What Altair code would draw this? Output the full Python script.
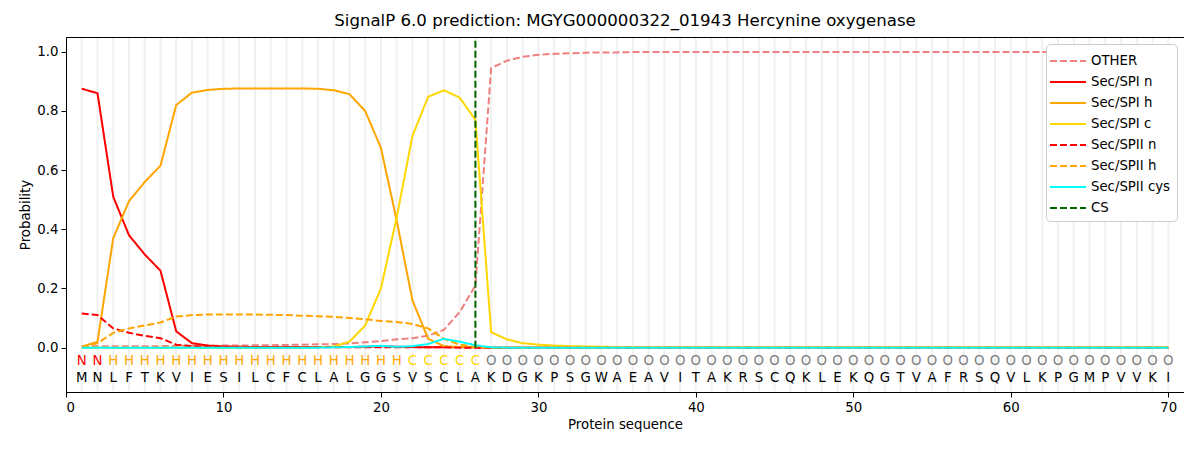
import altair as alt
import pandas as pd

sequence = list("MNLFTKVIESILCFCLALGGSVSCLAKDGKPSGWAEAVITAKRSCQKLEKQGTVAFRSQVLKPGMPVVKI")
labels = list("NN" + "HHHHHHHHHHHHHHHHHHH" + "CCCCC" + "O" * 44)

other = [0.005, 0.005, 0.005, 0.005, 0.005, 0.005, 0.006, 0.006, 0.006, 0.007,
         0.007, 0.008, 0.008, 0.009, 0.010, 0.011, 0.012, 0.014, 0.018, 0.022,
         0.028, 0.032, 0.040, 0.060, 0.120, 0.210, 0.945, 0.970, 0.983, 0.990,
         0.993, 0.995, 0.997, 0.998, 0.998, 0.999, 0.999, 0.999, 0.999, 0.999,
         0.999, 0.999, 0.999, 0.999, 0.999, 0.999, 0.999, 0.999, 0.999, 0.999,
         0.999, 0.999, 0.999, 0.999, 0.999, 0.999, 0.999, 0.999, 0.999, 0.999,
         0.999, 0.999, 0.999, 0.999, 0.999, 0.999, 0.999, 0.999, 0.999, 0.999]
spi_n = [0.875, 0.860, 0.510, 0.380, 0.315, 0.260, 0.055, 0.015, 0.007, 0.004,
         0.003, 0.002, 0.002, 0.002, 0.002, 0.002, 0.002, 0.002, 0.003, 0.005,
         0.003, 0.002, 0.001, 0.001, 0.001, 0.001, 0.0, 0.0, 0.0, 0.0,
         0.0, 0.0, 0.0, 0.0, 0.0, 0.0, 0.0, 0.0, 0.0, 0.0,
         0.0, 0.0, 0.0, 0.0, 0.0, 0.0, 0.0, 0.0, 0.0, 0.0,
         0.0, 0.0, 0.0, 0.0, 0.0, 0.0, 0.0, 0.0, 0.0, 0.0,
         0.0, 0.0, 0.0, 0.0, 0.0, 0.0, 0.0, 0.0, 0.0, 0.0]
spi_h = [0.003, 0.020, 0.370, 0.495, 0.560, 0.615, 0.820, 0.862, 0.871, 0.875,
         0.876, 0.876, 0.876, 0.876, 0.876, 0.875, 0.870, 0.857, 0.800, 0.675,
         0.430, 0.160, 0.030, 0.005, 0.002, 0.001, 0.0, 0.0, 0.0, 0.0,
         0.0, 0.0, 0.0, 0.0, 0.0, 0.0, 0.0, 0.0, 0.0, 0.0,
         0.0, 0.0, 0.0, 0.0, 0.0, 0.0, 0.0, 0.0, 0.0, 0.0,
         0.0, 0.0, 0.0, 0.0, 0.0, 0.0, 0.0, 0.0, 0.0, 0.0,
         0.0, 0.0, 0.0, 0.0, 0.0, 0.0, 0.0, 0.0, 0.0, 0.0]
spi_c = [0.0, 0.0, 0.0, 0.0, 0.0, 0.0, 0.0, 0.0, 0.0, 0.0,
         0.0, 0.0, 0.0, 0.0, 0.0, 0.001, 0.004, 0.020, 0.075, 0.200,
         0.440, 0.715, 0.848, 0.870, 0.845, 0.770, 0.052, 0.028, 0.015, 0.010,
         0.007, 0.005, 0.004, 0.003, 0.002, 0.002, 0.001, 0.001, 0.001, 0.001,
         0.001, 0.001, 0.001, 0.001, 0.001, 0.001, 0.001, 0.001, 0.001, 0.001,
         0.001, 0.001, 0.001, 0.001, 0.001, 0.001, 0.001, 0.001, 0.001, 0.001,
         0.001, 0.001, 0.001, 0.001, 0.001, 0.001, 0.001, 0.001, 0.001, 0.001]
spii_n = [0.115, 0.110, 0.065, 0.050, 0.040, 0.032, 0.010, 0.005, 0.003, 0.002,
          0.001, 0.001, 0.001, 0.001, 0.001, 0.001, 0.001, 0.001, 0.001, 0.001,
          0.001, 0.001, 0.001, 0.001, 0.0, 0.0, 0.0, 0.0, 0.0, 0.0,
          0.0, 0.0, 0.0, 0.0, 0.0, 0.0, 0.0, 0.0, 0.0, 0.0,
          0.0, 0.0, 0.0, 0.0, 0.0, 0.0, 0.0, 0.0, 0.0, 0.0,
          0.0, 0.0, 0.0, 0.0, 0.0, 0.0, 0.0, 0.0, 0.0, 0.0,
          0.0, 0.0, 0.0, 0.0, 0.0, 0.0, 0.0, 0.0, 0.0, 0.0]
spii_h = [0.002, 0.015, 0.050, 0.065, 0.075, 0.085, 0.105, 0.110, 0.112, 0.112,
          0.112, 0.112, 0.111, 0.110, 0.108, 0.106, 0.104, 0.100, 0.096, 0.090,
          0.087, 0.080, 0.065, 0.030, 0.010, 0.003, 0.0, 0.0, 0.0, 0.0,
          0.0, 0.0, 0.0, 0.0, 0.0, 0.0, 0.0, 0.0, 0.0, 0.0,
          0.0, 0.0, 0.0, 0.0, 0.0, 0.0, 0.0, 0.0, 0.0, 0.0,
          0.0, 0.0, 0.0, 0.0, 0.0, 0.0, 0.0, 0.0, 0.0, 0.0,
          0.0, 0.0, 0.0, 0.0, 0.0, 0.0, 0.0, 0.0, 0.0, 0.0]
spii_cys = [0.0, 0.0, 0.0, 0.0, 0.0, 0.0, 0.0, 0.0, 0.0, 0.0,
            0.0, 0.0, 0.0, 0.0, 0.0, 0.0, 0.001, 0.002, 0.004, 0.006,
            0.003, 0.005, 0.012, 0.030, 0.020, 0.008, 0.001, 0.0, 0.0, 0.0,
            0.0, 0.0, 0.0, 0.0, 0.0, 0.0, 0.0, 0.0, 0.0, 0.0,
            0.0, 0.0, 0.0, 0.0, 0.0, 0.0, 0.0, 0.0, 0.0, 0.0,
            0.0, 0.0, 0.0, 0.0, 0.0, 0.0, 0.0, 0.0, 0.0, 0.0,
            0.0, 0.0, 0.0, 0.0, 0.0, 0.0, 0.0, 0.0, 0.0, 0.0]
cs_position = 26
cs_top = 1.04

series_names = ["OTHER", "Sec/SPI n", "Sec/SPI h", "Sec/SPI c",
                "Sec/SPII n", "Sec/SPII h", "Sec/SPII cys", "CS"]
series_colors = ["#f08080", "#ff0000", "#ffa500", "#ffd700",
                 "#ff0000", "#ffa500", "#00ffff", "#006400"]
series_dashes = [[7, 3], [1, 0], [1, 0], [1, 0], [7, 3], [7, 3], [1, 0], [7, 3]]
series_values = [other, spi_n, spi_h, spi_c, spii_n, spii_h, spii_cys]

positions = list(range(1, len(sequence) + 1))

rows = []
for name, vals in zip(series_names[:-1], series_values):
    for p, v in zip(positions, vals):
        rows.append({"pos": p, "prob": v, "series": name})
lines_df = pd.DataFrame(rows)

cs_df = pd.DataFrame([{"pos": cs_position, "y0": 0.0, "y1": cs_top, "series": "CS"}])
seq_df = pd.DataFrame({"pos": positions, "res": sequence, "lab": labels})
grid_df = pd.DataFrame({"pos": positions})

label_colors = {"N": "#ff0000", "H": "#ffa500", "C": "#ffd700", "O": "#808080"}

W = 1118
H = 355

x_scale = alt.Scale(domain=[0, 71], nice=False, zero=False)
y_scale = alt.Scale(domain=[-0.15, 1.05], nice=False, zero=False)

x_axis = alt.Axis(values=[0, 10, 20, 30, 40, 50, 60, 70], title="Protein sequence",
                  grid=False, format="d")
y_axis = alt.Axis(values=[0, 0.2, 0.4, 0.6, 0.8, 1.0], title="Probability",
                  grid=False, format=".1f")

color_enc = alt.Color("series:N",
                      scale=alt.Scale(domain=series_names, range=series_colors),
                      sort=series_names, title=None)
dash_enc = alt.StrokeDash("series:N",
                          scale=alt.Scale(domain=series_names, range=series_dashes),
                          sort=series_names, title=None)

grid = alt.Chart(grid_df).mark_rule(color="#f0f0f0", strokeWidth=2).encode(
    x=alt.X("pos:Q", scale=x_scale, axis=x_axis),
    y=alt.value(1),
    y2=alt.value(H - 1),
)

lines = alt.Chart(lines_df).mark_line(strokeWidth=2).encode(
    x=alt.X("pos:Q", scale=x_scale, axis=x_axis),
    y=alt.Y("prob:Q", scale=y_scale, axis=y_axis),
    color=color_enc,
    strokeDash=dash_enc,
    detail="series:N",
)

cs_rule = alt.Chart(cs_df).mark_rule(strokeWidth=2).encode(
    x=alt.X("pos:Q", scale=x_scale, axis=x_axis),
    y=alt.Y("y0:Q", scale=y_scale, axis=y_axis),
    y2="y1:Q",
    color=color_enc,
    strokeDash=dash_enc,
)

label_layers = []
for lab, col in label_colors.items():
    label_layers.append(
        alt.Chart(seq_df).transform_filter(alt.datum.lab == lab)
        .transform_calculate(yy="-0.044")
        .mark_text(fontSize=13.3, color=col, baseline="middle", align="center",
                   font="DejaVu Sans")
        .encode(
            x=alt.X("pos:Q", scale=x_scale, axis=x_axis),
            y=alt.Y("yy:Q", scale=y_scale, axis=y_axis),
            text="lab:N",
        )
    )

res_text = alt.Chart(seq_df).transform_calculate(yy="-0.102").mark_text(
    fontSize=13.3, color="black", baseline="middle", align="center", font="DejaVu Sans"
).encode(
    x=alt.X("pos:Q", scale=x_scale, axis=x_axis),
    y=alt.Y("yy:Q", scale=y_scale, axis=y_axis),
    text="res:N",
)

chart = alt.layer(grid, lines, cs_rule, *label_layers, res_text).properties(
    width=W,
    height=H,
    title=alt.Title("SignalP 6.0 prediction: MGYG000000322_01943 Hercynine oxygenase",
                    fontSize=16.6, fontWeight="normal", offset=7, color="black"),
    padding={"left": 10, "top": 5, "right": 0, "bottom": 5},
).configure(
    font="DejaVu Sans"
).configure_view(
    stroke="black", strokeWidth=1
).configure_axis(
    domainColor="black", tickColor="black", labelColor="black", titleColor="black",
    labelFontSize=13.3, titleFontSize=13.3, titleFontWeight="normal", tickSize=5,
    labelPadding=3, domainWidth=1,
).configure_legend(
    orient="top-right", offset=7, fillColor="white", strokeColor="#cccccc",
    cornerRadius=4, padding=6, labelFontSize=13.3, symbolType="M-1.8,0H1.8",
    symbolSize=400, symbolStrokeWidth=2, rowPadding=3, labelColor="black",
    labelOffset=12, symbolOffset=5,
)

chart.save("out.html", embed_options={"renderer": "svg", "actions": False})
